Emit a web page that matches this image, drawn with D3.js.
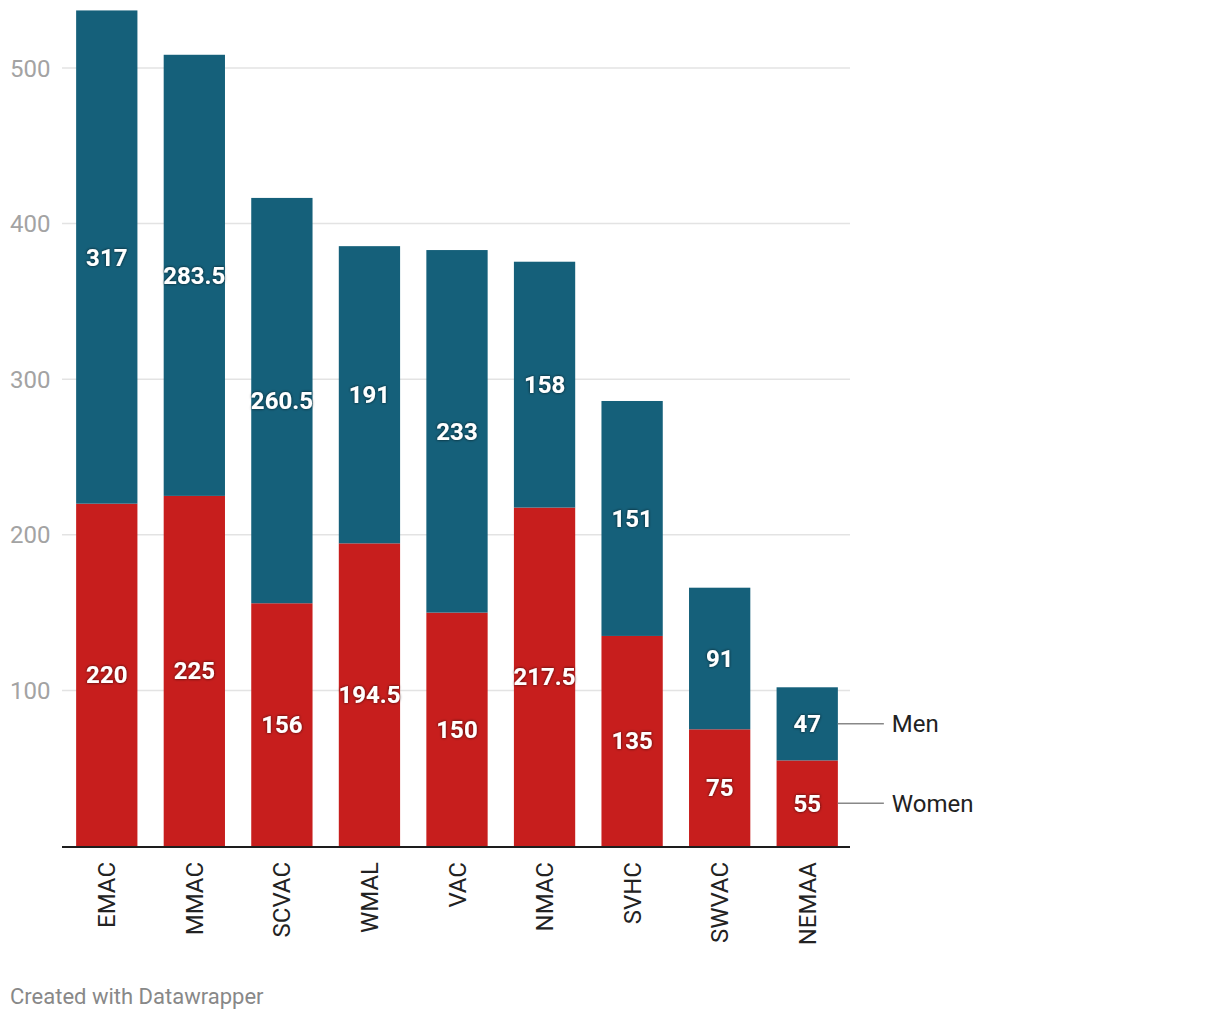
<!DOCTYPE html>
<html><head><meta charset="utf-8">
<script src="https://cdn.jsdelivr.net/npm/d3@7"></script>
<style>
body{margin:0;background:#fff;}
svg{display:block;font-family:Roboto,"Noto Sans",sans-serif;}
</style></head>
<body>
<svg id="chart" width="1220" height="1020"></svg>
<script>
const categories = ["EMAC","MMAC","SCVAC","WMAL","VAC","NMAC","SVHC","SWVAC","NEMAA"];
const women = [220,225,156,194.5,150,217.5,135,75,55];
const men = [317,283.5,260.5,191,233,158,151,91,47];
const yTicks = [100,200,300,400,500];
const seriesNames = ["Women","Men"];
const colors = {Women:"#c71e1d", Men:"#15607a"};

const svg = d3.select("#chart");
const defs = svg.append("defs");
const f = defs.append("filter").attr("id","sh").attr("x","-20%").attr("y","-30%").attr("width","140%").attr("height","160%");
f.append("feDropShadow").attr("dx",0).attr("dy",0).attr("stdDeviation",1.6).attr("flood-color","#000").attr("flood-opacity",0.75);

const x = d3.scaleBand().domain(categories).range([63,851]).paddingInner(0.3).paddingOuter(0.15);
const y = d3.scaleLinear().domain([0,500]).range([846,68]);

// grid
svg.append("g").selectAll("line").data(yTicks).join("line")
  .attr("x1",62).attr("x2",850).attr("y1",d=>y(d)).attr("y2",d=>y(d))
  .attr("stroke","#e3e3e3").attr("stroke-width",1.5);
svg.append("g").selectAll("text").data(yTicks).join("text")
  .attr("x",10).attr("y",d=>y(d)+8.5).attr("fill","#a3a3a3").attr("font-size",24).text(d=>d);

const data = categories.map((c,i)=>({c, Women:women[i], Men:men[i]}));
const stack = d3.stack().keys(seriesNames)(data);

const g = svg.append("g");
stack.forEach(s=>{
  g.selectAll(null).data(s).join("rect")
    .attr("x",d=>x(d.data.c)).attr("width",x.bandwidth())
    .attr("y",d=>y(d[1])).attr("height",d=>y(d[0])-y(d[1]))
    .attr("fill",colors[s.key]);
});
stack.forEach(s=>{
  g.selectAll(null).data(s).join("text")
    .attr("x",d=>x(d.data.c)+x.bandwidth()/2).attr("y",d=>y((d[0]+d[1])/2)+8.5)
    .attr("text-anchor","middle").attr("fill","#fff").attr("font-weight",700).attr("font-size",24)
    .attr("filter","url(#sh)")
    .text(d=>d.data[s.key]);
});

// axis
svg.append("line").attr("x1",62).attr("x2",850).attr("y1",847).attr("y2",847).attr("stroke","#1d1d1d").attr("stroke-width",2);
svg.append("g").selectAll("text").data(categories).join("text")
  .attr("transform",d=>`translate(${x(d)+x.bandwidth()/2+8.5},862) rotate(-90)`)
  .attr("text-anchor","end").attr("fill","#222").attr("font-size",24).text(d=>d);

// legend labels
const bx = x(categories[categories.length-1])+x.bandwidth();
stack.forEach((s,i)=>{
  const d = s[s.length-1];
  const yy = y((d[0]+d[1])/2);
  svg.append("line").attr("x1",bx).attr("x2",bx+46).attr("y1",yy).attr("y2",yy).attr("stroke","#888").attr("stroke-width",1.5);
  svg.append("text").attr("x",bx+54).attr("y",yy+8.5).attr("fill","#222").attr("font-size",24).text(s.key);
});

svg.append("text").attr("x",10).attr("y",1004).attr("fill","#888").attr("font-size",22).text("Created with Datawrapper");
</script>
</body></html>
